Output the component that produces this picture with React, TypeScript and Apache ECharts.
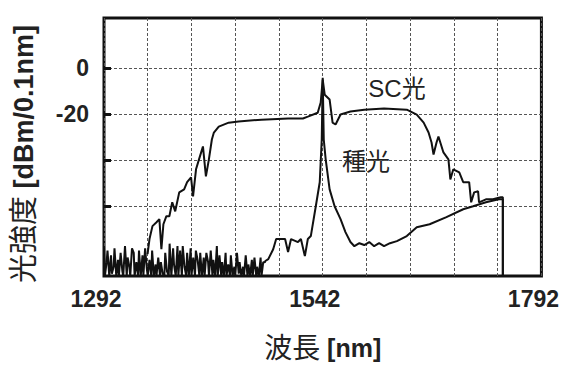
import React, { useEffect, useRef } from "react";
import * as echarts from "echarts";

// Wavelength axis (nm) and power axis (dBm/0.1nm)
const xMin = 1292;
const xMax = 1792;
const xStep = 50;
const yMin = -90;
const yMax = 21.7;
const yStep = 10;
const xTickValues = [1292, 1542, 1792];
const yLabelValues = [0, -20];
const yTickValues = [0, -20, -40, -60];

// SC光 (supercontinuum) spectrum: [wavelength nm, dBm]
const scSpectrum: [number, number][] = [
  [1341.8, -80.5], [1344, -74], [1347.4, -68.4], [1352, -66.7], [1355.3, -65.4],
  [1357.6, -78.4], [1359.9, -67.6], [1363.3, -64.1], [1366.7, -64.1], [1370, -58.1],
  [1373.4, -62], [1378, -53.8], [1383.6, -52.5], [1387, -49.4], [1391.5, -47.3],
  [1393.8, -55.5], [1397.2, -43.8], [1400.6, -39.5], [1405.1, -33.9], [1408.5, -46.9],
  [1411.9, -39.5], [1415.3, -30.9], [1417.6, -27.9], [1423.2, -25.3], [1434.5, -23.6],
  [1445.8, -23.1], [1471.9, -22.3], [1502.4, -21.8], [1519.4, -21.8], [1525, -21],
  [1536.3, -19.3], [1539.7, -14.9], [1542, -5], [1544.3, -11.5], [1549.9, -13.6],
  [1553.3, -23.6], [1556.7, -24.4], [1562.4, -20.1], [1573.7, -18.8], [1589.5, -18],
  [1612.1, -17.5], [1638.1, -18], [1649.5, -20.1], [1657.4, -23.6], [1663, -27.9],
  [1666.4, -32.2], [1668.7, -37.4], [1672.1, -32.2], [1674.3, -29.6], [1680, -36.5],
  [1685.7, -39.5], [1687.9, -48.2], [1691.3, -43.8], [1698.1, -45.1], [1702.6, -49.4],
  [1709.4, -49.4], [1711.7, -58.1], [1715.1, -53.8], [1719.6, -53.3], [1720.7, -58.1],
  [1728.6, -56.8], [1736.6, -56.8], [1745.6, -55.9], [1747.9, -55.9], [1747.9, -90],
];

// 種光 (seed light) noise floor: [wavelength nm, dBm]
const seedNoise: [number, number][] = [
  [1292, -77], [1293, -90], [1295, -84], [1296, -79], [1298, -90], [1300, -81], [1301, -89],
  [1303, -86], [1304, -78], [1306, -90], [1308, -83], [1309, -90], [1311, -80], [1313, -88],
  [1314, -90], [1316, -77], [1318, -90], [1319, -82], [1321, -86], [1322, -90], [1324, -78],
  [1326, -80], [1327, -90], [1329, -84], [1331, -90], [1332, -79], [1334, -90], [1336, -81],
  [1337, -90], [1339, -78], [1341, -87], [1342, -90], [1344, -83], [1346, -90], [1347, -79],
  [1349, -90], [1351, -85], [1352, -90], [1354, -82], [1356, -90], [1357, -84], [1359, -89],
  [1361, -90], [1362, -80], [1364, -88], [1366, -90], [1367, -76], [1369, -90], [1371, -78],
  [1372, -85], [1374, -90], [1376, -77], [1377, -90], [1379, -79], [1381, -90], [1382, -77],
  [1384, -86], [1386, -90], [1387, -80], [1389, -90], [1391, -78], [1392, -90], [1394, -82],
  [1396, -90], [1397, -79], [1399, -83], [1401, -90], [1402, -80], [1404, -90], [1406, -82],
  [1407, -90], [1409, -80], [1411, -84], [1412, -90], [1414, -79], [1416, -90], [1417, -83],
  [1419, -90], [1421, -77], [1422, -90], [1424, -81], [1426, -90], [1427, -84], [1429, -90],
  [1431, -80], [1432, -90], [1434, -85], [1436, -90], [1437, -81], [1439, -90], [1441, -86],
  [1442, -90], [1444, -80], [1446, -89], [1447, -84], [1449, -90], [1451, -86], [1452, -90],
  [1454, -81], [1456, -90], [1457, -85], [1459, -90], [1461, -83], [1462, -90], [1464, -82],
  [1466, -90], [1467, -86], [1469, -90], [1471, -82], [1472, -90], [1474, -84], [1476, -84],
];

// 種光 (seed light) spectrum: [wavelength nm, dBm]
const seedSpectrum: [number, number][] = [
  [1476.4, -83.5], [1479.8, -82.7], [1485.4, -78.4], [1488.8, -74], [1499, -74],
  [1502.4, -79.6], [1505.8, -74], [1513.7, -75.3], [1517.1, -74], [1521.6, -81.4],
  [1525, -74], [1528.4, -72.7], [1534.1, -59.8], [1538.6, -49.4], [1540.9, -30.9],
  [1542, -4.2], [1543.2, -30.9], [1545.4, -39.5], [1549.9, -52.5], [1555.6, -59.8],
  [1562.4, -65.4], [1568, -71], [1573.7, -75.3], [1578.2, -77.1], [1583.9, -75.8],
  [1589.5, -76.6], [1595.2, -75.3], [1600.8, -77.1], [1606.5, -75.8], [1612.1, -77.1],
  [1618.9, -75.8], [1626.8, -74.9], [1638.1, -72.7], [1649.5, -68.9], [1664.2, -67.6],
  [1683.4, -64.5], [1702.6, -61.1], [1713.9, -59.8], [1728.6, -58.1], [1743.3, -56.8],
  [1747.9, -56.8], [1747.9, -90],
];

const xTitleMain = "波長";
const xTitleUnit = "[nm]";
const yTitleMain = "光強度";
const yTitleUnit = "[dBm/0.1nm]";
const scLabel = "SC光";
const seedLabel = "種光";

const FONT = "'Liberation Sans', Arial, 'Noto Sans CJK JP', sans-serif";

export default function App() {
  const ref = useRef<HTMLDivElement>(null);

  useEffect(() => {
    if (!ref.current) return;
    const chart = echarts.init(ref.current, null, { renderer: "svg" });
    const lineStyle = { color: "#111", width: 2 };
    const tickLabel = {
      color: "#222",
      fontSize: 23,
      fontWeight: "bold",
      fontFamily: FONT,
    };
    chart.setOption({
      animation: false,
      backgroundColor: "#fff",
      textStyle: { fontFamily: FONT },
      grid: {
        left: 104,
        right: 16,
        top: 18,
        bottom: 90,
        show: true,
        borderColor: "#111",
        borderWidth: 3,
      },
      xAxis: {
        type: "value",
        min: xMin,
        max: xMax,
        interval: xStep,
        axisLine: { show: false },
        axisTick: { show: false },
        splitLine: { show: true, lineStyle: { color: "#555", width: 1, type: [3, 2] } },
        axisLabel: {
          ...tickLabel,
          customValues: xTickValues,
          formatter: (v: number) => String(v),
          margin: 12,
          padding: [0, 16, 0, 0],
        },
        name: `{m|${xTitleMain}}{u|\u00a0${xTitleUnit}}`,
        nameLocation: "middle",
        nameGap: 58,
        nameTextStyle: {
          color: "#222",
          fontFamily: FONT,
          rich: {
            m: { fontSize: 28, fontFamily: FONT, color: "#222" },
            u: { fontSize: 25, fontWeight: "bold", fontFamily: FONT, color: "#222" },
          },
        },
      },
      yAxis: {
        type: "value",
        min: yMin,
        max: yMax,
        interval: yStep,
        axisLine: { show: false },
        axisTick: {
          show: true,
          inside: true,
          length: 7,
          customValues: yTickValues,
          lineStyle: { color: "#111", width: 3 },
        },
        splitLine: { show: true, lineStyle: { color: "#555", width: 1, type: [3, 2] } },
        axisLabel: {
          ...tickLabel,
          customValues: yLabelValues,
          formatter: (v: number) => String(v),
          margin: 15,
        },
        name: `{m|${yTitleMain}}{u|\u00a0${yTitleUnit}}`,
        nameLocation: "middle",
        nameGap: 66,
        nameRotate: 90,
        nameTextStyle: {
          color: "#222",
          fontFamily: FONT,
          padding: [0, 14, 0, 0],
          rich: {
            m: { fontSize: 29, fontFamily: FONT, color: "#222" },
            u: { fontSize: 27, fontWeight: "bold", fontFamily: FONT, color: "#222" },
          },
        },
      },
      graphic: [
        {
          type: "text",
          x: 397,
          y: 88,
          style: {
            text: scLabel,
            fontSize: 24,
            fontFamily: FONT,
            fill: "#222",
            align: "center",
            verticalAlign: "middle",
          },
        },
        {
          type: "text",
          x: 366,
          y: 161,
          style: {
            text: seedLabel,
            fontSize: 24,
            fontFamily: FONT,
            fill: "#222",
            align: "center",
            verticalAlign: "middle",
          },
        },
      ],
      series: [
        {
          type: "line",
          name: seedLabel,
          data: [...seedNoise, ...seedSpectrum],
          showSymbol: false,
          lineStyle,
        },
        {
          type: "line",
          name: scLabel,
          data: scSpectrum,
          showSymbol: false,
          lineStyle,
        },
      ],
    });
    return () => chart.dispose();
  }, []);

  return (
    <div
      ref={ref}
      style={{ position: "absolute", left: 0, top: 0, width: 562, height: 367 }}
    />
  );
}
